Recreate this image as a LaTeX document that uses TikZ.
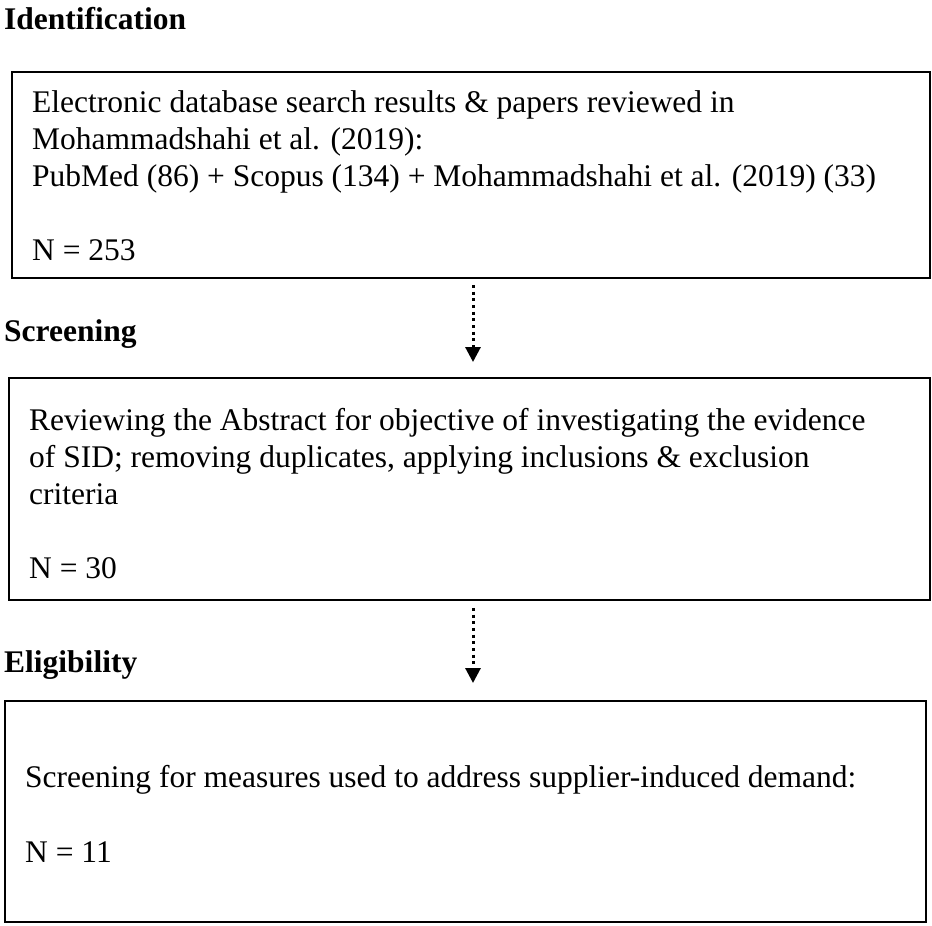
\documentclass[tikz,border=0pt]{standalone}
\usepackage{fontspec}
\setmainfont{Liberation Serif}
\usetikzlibrary{arrows.meta}
\begin{document}
\begin{tikzpicture}[x=1pt,y=-1pt,
  box/.style={draw, line width=1.8pt, inner sep=0pt, anchor=north west},
  txt/.style={anchor=base west, inner sep=0pt, font=\fontsize{31.5}{37}\selectfont},
  ttl/.style={anchor=base west, inner sep=0pt, font=\fontsize{31.5}{37}\selectfont\bfseries},
  flow/.style={line width=3pt, dash pattern=on 3pt off 3.7pt, -{Triangle[width=15pt,length=15pt]}}]
\useasboundingbox (0,0) rectangle (932,926);
% section titles
\node[ttl] (h1) at (4,29) {Identification};
\node[ttl] (h2) at (4,341) {Screening};
\node[ttl] (h3) at (4,672) {Eligibility};
% boxes
\node[box, minimum width=918pt, minimum height=206pt] (b1) at (11,71) {};
\node[box, minimum width=921pt, minimum height=222pt] (b2) at (8,377) {};
\node[box, minimum width=921pt, minimum height=221pt] (b3) at (4,700) {};
% box 1 text
\node[txt] (t1a) at (32,112) {Electronic database search results \& papers reviewed in};
\node[txt] (t1b) at (32,149) {Mohammadshahi et al. (2019):};
\node[txt] (t1c) at (32,186) {PubMed (86) + Scopus (134) + Mohammadshahi et al. (2019) (33)};
\node[txt] (t1d) at (32,260) {N = 253};
% box 2 text
\node[txt] (t2a) at (29,430) {Reviewing the Abstract for objective of investigating the evidence};
\node[txt] (t2b) at (29,467) {of SID; removing duplicates, applying inclusions \& exclusion};
\node[txt] (t2c) at (29,504) {criteria};
\node[txt] (t2d) at (29,578) {N = 30};
% box 3 text
\node[txt] (t3a) at (25,787) {Screening for measures used to address supplier-induced demand:};
\node[txt] (t3b) at (25,862) {N = 11};
% arrows
\coordinate (a1s) at ([yshift=-6pt]b1.south -| 473,0);
\coordinate (a1e) at ([yshift=15pt]b2.north -| 473,0);
\coordinate (a2s) at ([yshift=-7pt]b2.south -| 473,0);
\coordinate (a2e) at ([yshift=17pt]b3.north -| 473,0);
\draw[flow] (a1s) -- (a1e);
\draw[flow] (a2s) -- (a2e);
\end{tikzpicture}
\end{document}
